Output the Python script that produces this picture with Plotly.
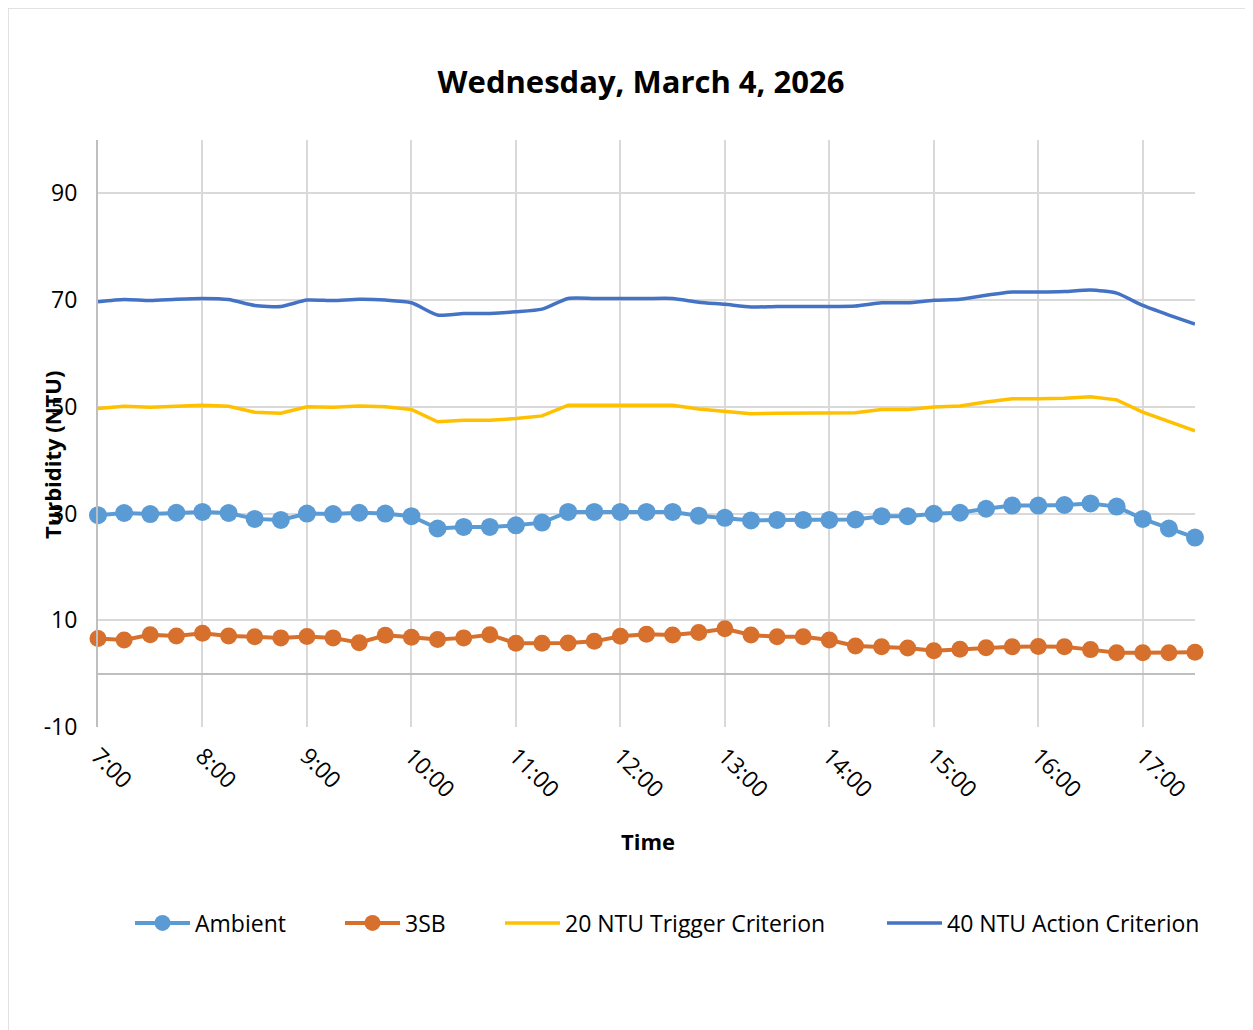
import plotly.graph_objects as go

times = [7 + 0.25 * i for i in range(43)]
tick_vals = [7, 8, 9, 10, 11, 12, 13, 14, 15, 16, 17]
tick_text = ["7:00", "8:00", "9:00", "10:00", "11:00", "12:00", "13:00", "14:00", "15:00", "16:00", "17:00"]
y_ticks = [-10, 10, 30, 50, 70, 90]
y_tick_text = ["-10", "10", "30", "50", "70", "90"]

ambient = [29.7, 30.1, 29.9, 30.15, 30.3, 30.1, 29.0, 28.8, 30.0, 29.9, 30.15, 30.0, 29.5, 27.2, 27.5,
           27.5, 27.8, 28.3, 30.3, 30.3, 30.3, 30.3, 30.3, 29.6, 29.2, 28.7, 28.8, 28.8, 28.8, 28.9,
           29.5, 29.5, 29.96, 30.15, 30.9, 31.5, 31.5, 31.6, 31.9, 31.3, 29.0, 27.2, 25.5]
sb3 = [6.6, 6.3, 7.3, 7.05, 7.55, 7.05, 6.9, 6.7, 6.95, 6.7, 5.8, 7.2, 6.8, 6.4, 6.7,
       7.3, 5.7, 5.7, 5.75, 6.05, 7.0, 7.4, 7.25, 7.7, 8.4, 7.25, 6.9, 6.9, 6.3, 5.2,
       5.05, 4.8, 4.3, 4.55, 4.85, 5.05, 5.1, 5.05, 4.5, 3.9, 3.9, 3.9, 4.0]
trigger = [49.7, 50.1, 49.9, 50.15, 50.3, 50.1, 49.0, 48.8, 50.0, 49.9, 50.15, 50.0, 49.5, 47.2, 47.5,
           47.5, 47.8, 48.3, 50.3, 50.3, 50.3, 50.3, 50.3, 49.6, 49.2, 48.7, 48.8, 48.8, 48.8, 48.9,
           49.5, 49.5, 49.96, 50.15, 50.9, 51.5, 51.5, 51.6, 51.9, 51.3, 49.0, 47.2, 45.5]
action = [69.7, 70.1, 69.9, 70.15, 70.3, 70.1, 69.0, 68.8, 70.0, 69.9, 70.15, 70.0, 69.5, 67.2, 67.5,
          67.5, 67.8, 68.3, 70.3, 70.3, 70.3, 70.3, 70.3, 69.6, 69.2, 68.7, 68.8, 68.8, 68.8, 68.9,
          69.5, 69.5, 69.96, 70.15, 70.9, 71.5, 71.5, 71.6, 71.9, 71.3, 69.0, 67.2, 65.5]

FONT = "Open Sans"
OFF = 8  # browser body margin
W, H = 1253 - OFF, 1030 - OFF
L, R, T, B = 98 - OFF, 1195 - OFF, 140 - OFF, 727 - OFF
pw, ph = R - L, B - T


def px(xp):
    return (xp - OFF - L) / pw


def py(yp):
    return (B - (yp - OFF)) / ph


fig = go.Figure()
fig.add_trace(go.Scatter(x=times, y=ambient, name="Ambient", mode="lines+markers",
                         line=dict(color="#5B9BD5", width=4), marker=dict(size=18, color="#5B9BD5"),
                         cliponaxis=False, legend="legend"))
fig.add_trace(go.Scatter(x=times, y=sb3, name="3SB", mode="lines+markers",
                         line=dict(color="#D6702C", width=4), marker=dict(size=17, color="#D6702C"),
                         cliponaxis=False, legend="legend2"))
fig.add_trace(go.Scatter(x=times, y=trigger, name="20 NTU Trigger Criterion", mode="lines",
                         line=dict(color="#FFC000", width=3.5), cliponaxis=False, legend="legend3"))
fig.add_trace(go.Scatter(x=times, y=action, name="40 NTU Action Criterion", mode="lines",
                         line=dict(color="#4472C4", width=3.5, shape="spline", smoothing=0.6),
                         cliponaxis=False, legend="legend4"))


def leg(xpix):
    return dict(orientation="h", x=px(xpix), xanchor="left", y=py(923), yanchor="middle",
                font=dict(size=23, family=FONT), itemwidth=55, bgcolor="rgba(0,0,0,0)",
                borderwidth=0)


fig.update_layout(
    width=W, height=H,
    margin=dict(l=L, r=W - R, t=T, b=H - B, pad=0),
    paper_bgcolor="white", plot_bgcolor="white",
    font=dict(family=FONT, color="#000000"),
    title=dict(text="<b>Wednesday, March 4, 2026</b>", x=px(641), xanchor="center", xref="paper",
               y=1 - (82 - OFF) / H, yanchor="middle", font=dict(size=31, family=FONT)),
    showlegend=True,
    legend=leg(130), legend2=leg(340), legend3=leg(500), legend4=leg(882),
    xaxis=dict(range=[7, 17.5], tickvals=tick_vals, ticktext=tick_text, tickangle=45,
               showgrid=True, gridcolor="#D9D9D9", gridwidth=2, zeroline=False,
               showline=False, ticks="", tickfont=dict(size=23, family=FONT),
               ticklabelstandoff=10),
    yaxis=dict(range=[-10, 100], tickvals=y_ticks, ticktext=y_tick_text, showgrid=True,
               gridcolor="#D9D9D9", gridwidth=2,
               zeroline=True, zerolinecolor="#BFBFBF", zerolinewidth=2,
               showline=True, linecolor="#BFBFBF", linewidth=2, ticks="",
               tickfont=dict(size=23, family=FONT), ticklabelstandoff=14),
    annotations=[
        dict(text="<b>Time</b>", x=px(648), y=py(841), xref="paper", yref="paper",
             xanchor="center", yanchor="middle",
             showarrow=False, font=dict(size=22, family=FONT)),
        dict(text="<b>Turbidity (NTU)</b>", x=px(52), y=py(455), xref="paper", yref="paper",
             xanchor="center", yanchor="middle",
             showarrow=False, textangle=-90, font=dict(size=22, family=FONT)),
    ],
    shapes=[
        dict(type="rect", xref="paper", yref="paper", x0=px(8), x1=px(1262), y0=py(1040), y1=py(8),
             line=dict(color="#D9D9D9", width=1.5), fillcolor="rgba(0,0,0,0)", layer="below"),
    ],
)

fig.write_html("out.html")
